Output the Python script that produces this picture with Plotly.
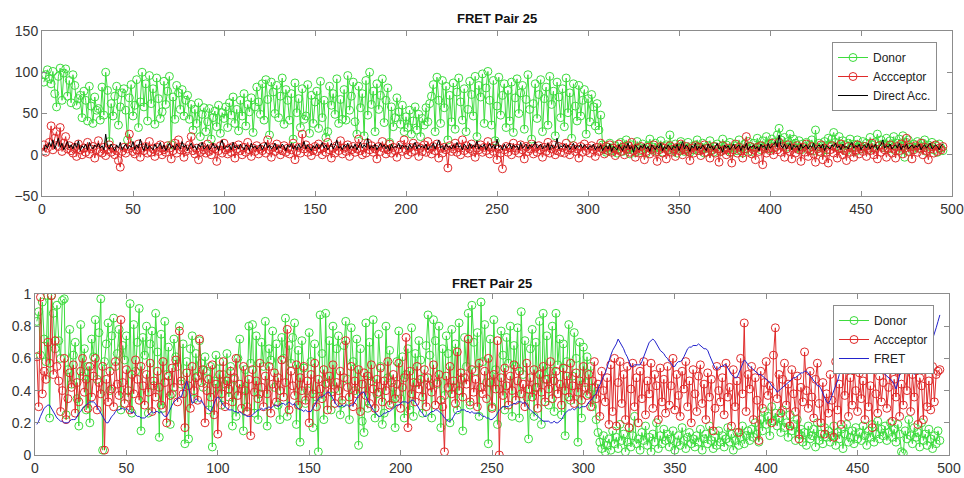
import plotly.graph_objects as go

# ---------------- Top panel: intensities ----------------
top_donor = [
    88, 97, 103, 92, 86, 101, 74, 58, 95, 105, 66, 99, 104, 71, 90,
    63, 97, 84, 60, 68, 72, 45, 77, 66, 41, 83, 59, 38, 70, 54,
    56, 42, 82, 48, 100, 78, 16, 62, 47, 71, 83, 36, 58, 75, 80,
    54, 18, 69, 85, 47, 60, 91, 33, 64, 100, 58, 86, 41, 96, 62,
    80, 37, 93, 68, 44, 52, 89, 61, 77, 95, 12, 70, 43, 84, 75,
    55, 79, 47, 66, 72, 43, 61, 30, 55, 38, 63, 22, 49, 57, 28,
    40, 56, 19, 45, 53, 34, 60, 26, 51, 44, 58, 33, 63, 48, 70,
    38, 55, 29, 66, 47, 74, 35, 61, 52, 69, 27, 58, 82, 64, 49,
    86, 42, 91, 67, 24, 88, 76, 50, 84, 45, 71, 93, 37, 79, 66,
    42, 74, 19, 87, 51, 68, 33, 80, 43, 47, 85, 26, 72, 38, 64,
    77, 32, 89, 45, 66, 21, 28, 83, 60, 74, 49, 92, 38, 67, 43,
    79, 42, 96, 54, 71, 88, 40, 25, 83, 57, 74, 23, 90, 48, 100,
    61, 77, 28, 86, 55, 72, 92, 39, 66, 81, 15, 58, 34, 45, 69,
    52, 37, 60, 28, 46, 33, 54, 25, 41, 58, 30, 49, 22, 44, 36,
    57, 40, 62, 71, 85, 28, 94, 66, 38, 90, 57, 83, 18, 72, 40,
    87, 31, 76, 93, 64, 42, 80, 28, 55, 89, 73, 47, 95, 22, 84,
    70, 98, 38, 81, 101, 66, 36, 90, 17, 59, 94, 48, 72, 86, 33,
    78, 41, 88, 27, 69, 92, 50, 75, 84, 31, 67, 97, 55, 19, 62,
    86, 44, 73, 91, 28, 68, 82, 36, 95, 61, 77, 23, 88, 70, 45,
    80, 34, 93, 51, 75, 20, 86, 59, 41, 84, 47, 66, 79, 25, 68,
    40, 73, 58, 35, 62, 30, 48, 12, 6, 3, 9, 14, 5, 8, 11,
    2, 7, 15, 4, 10, 18, 6, 1, 12, 8, 3, 16, 9, 5, 13,
    7, 2, 11, 19, 6, 9, 14, 4, 8, 17, 3, 10, 12, 6, 24,
    9, 5, 13, 2, 8, 16, 11, 4, 7, 15, 3, 10, 6, 12, 18,
    5, 9, 14, 2, 8, 11, 17, 6, 3, 10, 13, 7, 4, 19, 9,
    12, 6, 15, 3, 8, 11, 5, 18, 9, 2, 13, 7, 16, 10, 4,
    14, 8, 20, 11, 6, 17, 9, 22, 13, 7, 19, 15, 10, 24, 32,
    18, 12, 21, 9, 16, 25, 11, 19, 14, 8, 17, 6, 13, 10, 15,
    7, 12, 18, 5, 30, 9, 14, 3, 11, 16, 6, 20, 13, 19, 27,
    15, 10, 22, 8, 17, 12, 5, 14, 19, 9, 13, 4, 18, 11, 7,
    16, 10, 14, 6, 21, 12, 8, 15, 25, 11, 18, 9, 13, 20, 7,
    17, 12, 22, 5, 14, 19, 8, 23, -3, 15, 18, 10, 6, 13, 9,
    16, 11, 7, 14, 18, 4, 12, 9, 15, 6, 11, 3, 13, 8, 5,
]

top_acceptor = [
    12, 3, 8, 15, 35, 6, 20, 28, 10, 33, 4, 14, 22, 7, 11,
    5, 2, 9, -2, 13, 6, 0, 8, 3, 15, 1, 7, 10, -4, 6,
    17, 4, 2, 9, -1, 6, 12, 3, 8, 0, 5, -7, -15, 4, 9,
    2, 7, 25, 11, 4, 1, 6, 13, -3, 8, 5, 10, 2, 16, 3,
    7, -2, 9, 4, 12, 0, 6, 3, 11, 8, -5, 5, 14, 2, 18,
    6, 9, -3, 4, 7, 12, 22, 5, 1, 8, -6, 3, 10, 6, 2,
    13, 4, 0, 9, 7, -8, 5, 11, 2, 14, 6, 1, 8, 3, 10,
    -4, 7, 12, 5, 0, 9, 3, 15, 6, -2, 8, 4, 11, 1, 7,
    5, 10, 2, 18, 6, -3, 9, 4, 13, 7, 0, 5, 11, 3, 8,
    1, 6, 14, -6, 4, 9, 2, 25, 7, 12, 3, 8, -1, 5, 10,
    4, 13, 7, 0, 9, 3, 15, 6, -4, 8, 2, 11, 5, 17, 1,
    8, 4, 12, -2, 6, 10, 3, 7, 19, 5, 0, 9, 2, 14, 6,
    11, 3, 7, -5, 10, 4, 16, 8, 1, 6, 13, 2, 9, 5, -3,
    7, 12, 4, 18, 6, 0, 9, 3, 14, 5, 10, -2, 8, 4, 12,
    3, 16, 7, 1, 10, 5, 13, -4, 8, 2, 9, 6, -16, 11, 4,
    7, 14, 3, 9, 0, 18, 5, 11, 2, 7, 13, 4, -3, 8, 6,
    12, 3, 9, 5, 16, 1, 8, 4, 11, -6, 7, 2, -17, 6, 10,
    3, 9, 0, 14, 5, 8, 2, 12, 6, -5, 10, 4, 7, 13, 1,
    8, 3, 11, 6, -3, 9, 4, 15, 2, 7, 12, 0, 5, 10, 3,
    9, 2, 14, 6, 0, 8, 11, 4, 7, -4, 10, 3, 13, 5, 8,
    2, 11, 6, -2, 9, 4, 14, 7, 1, 10, 5, 12, 3, 8, -1,
    6, 13, 4, 9, 0, 7, 11, 3, 15, 5, -3, 8, 2, 10, 6,
    -6, 4, 9, 1, 7, 12, 3, -8, 6, 10, 2, 8, -5, 5, 11,
    3, 7, -2, 9, 5, 13, 0, 6, 10, 4, -7, 8, 2, 11, 5,
    9, -1, 6, 12, 3, 8, -4, 5, 10, 2, 7, -9, 4, 11, 6,
    0, 8, 3, -10, 6, 13, 2, 9, 5, -4, 7, 22, 3, 10, 1,
    6, -6, 9, 4, 11, -12, 7, 2, 8, 5, 14, 0, 9, 6, 15,
    3, 10, -3, 7, 12, 4, -5, 8, 2, 11, 6, -8, 9, 3, 13,
    -2, 5, 10, 1, -9, 7, 4, 12, -6, 8, 3, -10, 6, 11, 2,
    9, -4, 7, 13, 0, 5, -7, 10, 3, 8, -3, 6, 12, 1, 7,
    4, 10, -2, 8, 5, 14, 0, 7, -5, 11, 3, 9, 6, -3, 8,
    12, 2, 7, -4, 10, 5, 13, 1, 8, 20, 4, 9, -5, 6, 11,
    3, 8, 14, 0, 9, 5, -6, 7, 10, 2, 12, 4, 8, 6, 10,
]

top_direct = [
    5, 12, 8, 15, 10, 18, 7, 13, 20, 9, 14, 6, 11, 16, 8,
    12, 7, 14, 9, 17, 5, 11, 8, 13, 6, 15, 10, 7, 12, 9,
    14, 8, 11, 6, 25, 10, 7, 13, 9, 5, 12, 8, 15, 6, 10,
    13, 7, 11, 9, 16, 6, 12, 8, 19, 10, 5, 14, 7, 11, 9,
    6, 13, 8, 10, 15, 7, 12, 5, 9, 14, 8, 11, 6, 13, 10,
    7, 16, 9, 12, 5, 10, 14, 8, 11, 6, 13, 9, 15, 7, 10,
    12, 6, 9, 14, 8, 11, 5, 13, 18, 7, 10, 9, 12, 6, 15,
    8, 11, 7, 13, 9, 6, 12, 10, 5, 14, 8, 11, 7, 9, 13,
    6, 10, 15, 8, 12, 7, 9, 14, 6, 11, 8, 13, 10, 5, 12,
    9, 14, 7, 11, 6, 13, 8, 10, 16, 7, 12, 9, 5, 11, 8,
    13, 7, 10, 15, 8, 12, 6, 9, 14, 7, 11, 18, 8, 10, 6,
    12, 9, 14, 7, 11, 8, 13, 6, 10, 15, 8, 12, 9, 20, 7,
    11, 8, 13, 6, 10, 14, 9, 12, 7, 11, 5, 13, 8, 10, 9,
    14, 7, 12, 9, 11, 6, 13, 8, 10, 15, 7, 12, 9, 11, 8,
    13, 6, 10, 9, 14, 7, 12, 18, 8, 11, 6, 13, 9, 10, 7,
    12, 8, 15, 9, 11, 6, 13, 10, 7, 14, 8, 12, 9, 17, 7,
    11, 9, 13, 6, 10, 14, 8, 12, 7, 19, 9, 11, 6, 13, 8,
    10, 14, 7, 12, 9, 11, 6, 15, 8, 10, 13, 7, 12, 9, 11,
    16, 8, 10, 13, 7, 11, 9, 14, 6, 12, 8, 10, 20, 7, 11,
    9, 13, 8, 12, 6, 10, 14, 7, 11, 9, 13, 8, 12, 10, 7,
    11, 9, 13, 6, 10, 8, 12, 5, 9, 11, 7, 13, 4, 10, 8,
    6, 12, 9, 5, 11, 8, 14, 7, 10, 3, 12, 9, 6, 11, 8,
    13, 7, 10, 4, 12, 9, 6, 11, 8, 14, 5, 10, 7, 12, 9,
    6, 11, 8, 13, 5, 10, 16, 7, 12, 9, 4, 11, 8, 14, 6,
    10, 7, 12, 9, 5, 13, 8, 11, 6, 10, 14, 7, 9, 3, 12,
    8, 11, 6, 10, 13, 7, 9, 12, 5, 11, 8, 14, 6, 10, 9,
    12, 7, 10, 5, 13, 9, 11, 6, 14, 8, 10, 12, 16, 9, 24,
    11, 8, 13, 7, 10, 14, 6, 12, 9, 11, 5, 13, 8, 10, 12,
    7, 11, 9, 14, 6, 10, 12, 8, 13, 5, 11, 9, 7, 12, 10,
    14, 8, 11, 6, 13, 9, 10, 7, 12, 15, 8, 11, 9, 13, 6,
    10, 12, 8, 14, 7, 11, 9, 13, 6, 10, 12, 18, 8, 11, 9,
    13, 7, 10, 12, 8, 14, 6, 11, 9, 13, 7, 10, 12, 8, 11,
    9, 13, 6, 10, 12, 8, 11, 14, 7, 9, 12, 10, 6, 11, 13,
]

# ---------------- Bottom panel: normalised ----------------
bot_donor = [
    .83, .89, .62, .95, .72, .58, .99, .23, .99, .88, .66, .93, .71, .60, .96,
    .97, .25, .53, .78, .44, .62, .70, .35, .18, .81, .49, .66, .28, .55, .20,
    .72, .61, .84, .47, .76, .97, .03, .58, .69, .82, .40, .74, .85, .55, .63,
    .78, .28, .68, .59, .74, .36, .94, .26, .81, .52, .70, .91, .15, .73, .62,
    .80, .26, .69, .77, .43, .88, .64, .11, .75, .29, .83, .50, .67, .19, .38,
    .72, .61, .55, .80, .44, .69, .07, .58, .10, .66, .74, .35, .63, .49, .71,
    .57, .42, .61, .52, .28, .55, .05, .46, .62, .38, .58, .31, .50, .44, .63,
    .36, .55, .18, .47, .24, .60, .72, .41, .15, .53, .30, .80, .57, .81, .26,
    .74, .22, .38, .70, .55, .83, .18, .66, .59, .77, .42, .69, .31, .22, .73,
    .60, .85, .24, .68, .57, .73, .82, .19, .65, .08, .71, .54, .32, .40, .76,
    .58, .17, .69, .36, .02, .87, .63, .22, .88, .45, .71, .28, .80, .41, .66,
    .74, .25, .32, .68, .83, .47, .22, .79, .58, .40, .72, .06, .66, .21, .14,
    .82, .29, .70, .46, .84, .23, .38, .75, .55, .19, .26, .80, .48, .65, .32,
    .42, .17, .58, .77, .35, .61, .23, .50, .66, .28, .79, .24, .63, .45, .71,
    .59, .26, .48, .68, .87, .62, .23, .84, .71, .44, .80, .17, .66, .37, .74,
    .63, .20, .78, .42, .69, .28, .82, .47, .15, .73, .55, .88, .31, .93, .70,
    .52, .76, .24, .95, .58, .81, .45, .07, .72, .30, .84, .53, .19, .41, .77,
    .62, .28, .73, .57, .80, .24, .68, .55, .79, .23, .89, .50, .71, .36, .10,
    .66, .78, .24, .70, .42, .83, .19, .88, .47, .74, .31, .52, .80, .27, .88,
    .56, .72, .25, .69, .12, .58, .81, .34, .49, .76, .60, .08, .70, .23, .67,
    .45, .61, .38, .55, .30, .42, .22, .14, .08, .04, .12, .02, .06, .10, .03,
    .15, .07, .11, .04, .19, .09, .13, .02, .08, .17, .05, .12, .24, .07, .10,
    .03, .14, .09, .18, .06, .11, .02, .13, .08, .20, .04, .12, .07, .16, .09,
    .13, .05, .10, .15, .03, .08, .12, .06, .17, .09, .04, .11, .14, .07, .10,
    .05, .12, .08, .16, .03, .10, .13, .07, .18, .09, .04, .11, .06, .15, .08,
    .12, .05, .10, .17, .08, .13, .03, .09, .14, .06, .11, .18, .07, .12, .15,
    .09, .16, .11, .20, .13, .08, .22, .15, .27, .19, .24, .12, .30, .21, .26,
    .18, .23, .14, .28, .17, .20, .11, .25, .15, .19, .09, .22, .13, .16, .08,
    .14, .06, .18, .10, .12, .16, .05, .20, .09, .13, .07, .17, .11, .15, .08,
    .12, .18, .06, .14, .10, .16, .04, .13, .19, .08, .11, .15, .07, .17, .10,
    .14, .09, .18, .12, .06, .15, .11, .19, .08, .13, .21, .10, .16, .12, .18,
    .09, .14, .20, .11, .16, .08, .19, .13, .02, .01, .15, .10, .22, .12, .07,
    .17, .11, .14, .05, .20, .09, .13, .06, .16, .10, .04, .12, .07, .15, .09,
]

bot_acceptor = [
    .61, .30, .98, .38, .52, .47, .70, .57, .99, .50, .71, .55, .46, .27, .40,
    .60, .22, .35, .51, .42, .56, .26, .45, .33, .52, .60, .39, .47, .29, .55,
    .36, .49, .60, .28, .45, .38, .55, .03, .47, .33, .52, .41, .30, .58, .44,
    .37, .84, .45, .32, .53, .40, .28, .50, .38, .59, .47, .34, .55, .43, .31,
    .50, .39, .57, .27, .46, .36, .52, .42, .31, .58, .45, .20, .49, .37, .54,
    .42, .59, .33, .77, .46, .38, .17, .51, .43, .29, .55, .40, .48, .34, .72,
    .45, .53, .20, .40, .47, .36, .56, .25, .44, .13, .50, .38, .58, .30, .46,
    .41, .52, .33, .48, .60, .37, .44, .29, .55, .40, .27, .47, .12, .53, .39,
    .46, .35, .57, .42, .30, .49, .38, .55, .26, .44, .51, .33, .48, .40, .59,
    .36, .45, .78, .28, .52, .43, .37, .56, .31, .48, .40, .55, .34, .46, .20,
    .50, .38, .57, .30, .47, .41, .35, .53, .44, .28, .49, .39, .56, .32, .45,
    .40, .52, .34, .48, .71, .42, .36, .55, .30, .46, .38, .53, .27, .44, .51,
    .37, .49, .32, .56, .41, .29, .47, .39, .54, .33, .46, .40, .58, .31, .45,
    .50, .35, .44, .57, .29, .42, .48, .73, .17, .52, .38, .45, .33, .55, .41,
    .47, .36, .53, .30, .48, .43, .39, .56, .31, .45, .50, .34, .30, .02, .49,
    .42, .55, .38, .46, .32, .64, .40, .51, .36, .48, .44, .72, .33, .53, .39,
    .47, .30, .57, .42, .38, .52, .35, .60, .45, .29, .50, .41, .71, .00, .48,
    .37, .54, .43, .31, .49, .40, .56, .34, .46, .52, .38, .44, .30, .57, .41,
    .48, .36, .53, .42, .29, .50, .39, .55, .33, .47, .41, .58, .35, .46, .52,
    .38, .44, .31, .54, .40, .49, .36, .57, .43, .32, .51, .39, .46, .34, .55,
    .42, .37, .50, .30, .46, .58, .35, .44, .24, .52, .40, .33, .48, .19, .56,
    .27, .60, .18, .45, .58, .32, .50, .22, .55, .17, .41, .57, .30, .48, .20,
    .52, .35, .58, .25, .46, .38, .57, .29, .50, .43, .22, .54, .33, .47, .26,
    .55, .31, .43, .60, .28, .50, .37, .24, .52, .41, .58, .30, .46, .20, .53,
    .38, .27, .49, .56, .32, .44, .22, .51, .36, .47, .15, .29, .55, .40, .33,
    .48, .25, .57, .36, .42, .18, .53, .30, .46, .14, .60, .38, .82, .27, .50,
    .41, .55, .22, .48, .34, .09, .52, .29, .45, .58, .37, .43, .20, .62, .79,
    .35, .50, .26, .47, .57, .31, .44, .18, .53, .38, .27, .49, .10, .42, .33,
    .64, .40, .29, .52, .36, .23, .47, .57, .32, .20, .45, .13, .38, .26, .50,
    .34, .11, .58, .28, .44, .19, .53, .37, .60, .24, .48, .31, .55, .40, .27,
    .51, .35, .46, .22, .57, .30, .43, .17, .53, .38, .26, .49, .33, .45, .60,
    .29, .42, .54, .21, .47, .36, .52, .24, .44, .31, .58, .40, .63, .27, .50,
    .36, .55, .19, .48, .43, .22, .57, .30, .46, .28, .55, .33, .50, .52, .53,
]

bot_fret = [
    .19, .21, .24, .27, .29, .30, .31, .31, .29, .27, .25, .23, .22, .21, .21,
    .20, .20, .20, .21, .22, .22, .22, .24, .26, .27, .29, .30, .31, .32, .33,
    .33, .33, .32, .30, .28, .26, .24, .22, .20, .20, .22, .24, .25, .27, .28,
    .28, .29, .29, .28, .29, .28, .27, .26, .27, .25, .24, .24, .23, .23, .23,
    .24, .25, .26, .27, .26, .27, .27, .26, .27, .25, .24, .24, .26, .29, .31,
    .33, .34, .35, .36, .36, .39, .43, .46, .42, .36, .32, .33, .35, .34, .33,
    .34, .32, .30, .29, .28, .27, .29, .32, .35, .36, .35, .33, .31, .30, .29,
    .28, .28, .28, .27, .27, .26, .27, .26, .25, .25, .24, .24, .24, .25, .26,
    .27, .28, .28, .29, .28, .29, .29, .30, .29, .30, .31, .31, .30, .31, .32,
    .32, .31, .32, .33, .32, .31, .32, .30, .29, .28, .28, .27, .28, .27, .27,
    .27, .29, .31, .33, .35, .36, .36, .37, .38, .39, .39, .37, .35, .33, .31,
    .30, .30, .31, .30, .31, .31, .30, .31, .31, .33, .35, .37, .38, .39, .39,
    .36, .34, .32, .30, .28, .27, .25, .24, .24, .25, .26, .26, .27, .27, .28,
    .29, .30, .31, .31, .32, .33, .33, .33, .32, .33, .34, .34, .33, .31, .29,
    .27, .26, .24, .24, .25, .26, .27, .27, .28, .28, .27, .26, .25, .23, .22,
    .21, .21, .22, .24, .26, .27, .27, .28, .28, .28, .27, .27, .26, .27, .26,
    .26, .26, .26, .25, .24, .24, .23, .23, .22, .22, .23, .24, .26, .28, .29,
    .30, .30, .30, .30, .31, .31, .32, .32, .33, .33, .33, .32, .33, .31, .29,
    .28, .27, .26, .25, .24, .23, .22, .21, .21, .21, .21, .20, .20, .21, .20,
    .20, .21, .22, .24, .26, .27, .28, .28, .29, .28, .29, .30, .29, .30, .30,
    .30, .31, .33, .34, .35, .37, .38, .41, .44, .47, .49, .51, .55, .58, .62,
    .65, .67, .69, .72, .70, .68, .66, .63, .61, .58, .55, .55, .56, .56, .56,
    .56, .58, .61, .64, .67, .70, .71, .72, .71, .69, .67, .65, .64, .63, .61,
    .60, .58, .57, .55, .55, .57, .58, .58, .59, .61, .64, .66, .67, .67, .68,
    .68, .68, .69, .68, .67, .66, .66, .65, .62, .59, .56, .54, .53, .54, .55,
    .55, .56, .56, .54, .52, .50, .49, .48, .48, .51, .54, .57, .59, .58, .56,
    .55, .54, .53, .52, .51, .50, .50, .49, .48, .47, .46, .45, .43, .42, .41,
    .39, .40, .41, .42, .43, .44, .45, .46, .47, .48, .48, .49, .50, .51, .51,
    .52, .52, .51, .49, .48, .46, .45, .43, .43, .41, .38, .35, .33, .32, .34,
    .37, .40, .42, .46, .50, .53, .55, .55, .54, .54, .53, .54, .54, .55, .56,
    .56, .55, .55, .54, .54, .53, .53, .54, .53, .52, .52, .51, .51, .51, .50,
    .49, .48, .47, .46, .44, .41, .45, .50, .55, .59, .61, .62, .60, .56, .52,
    .50, .52, .54, .56, .58, .60, .62, .64, .66, .68, .72, .75, .79, .83, .87,
]

x_ticks = [0, 50, 100, 150, 200, 250, 300, 350, 400, 450, 500]
title_text = "FRET Pair 25"

GREEN = "#3ddc3d"
RED = "#e02a2a"
MSIZE = 8
FONT = "Liberation Sans, Arial, sans-serif"


def frames(vals):
    return list(range(1, len(vals) + 1))


fig = go.Figure()

# top panel
fig.add_trace(go.Scatter(x=frames(top_donor), y=top_donor, name="Donor", mode="lines+markers",
                         line=dict(color=GREEN, width=1),
                         marker=dict(symbol="circle-open", size=MSIZE, color=GREEN, line=dict(width=1)),
                         xaxis="x", yaxis="y", legend="legend"))
fig.add_trace(go.Scatter(x=frames(top_acceptor), y=top_acceptor, name="Accceptor", mode="lines+markers",
                         line=dict(color=RED, width=1),
                         marker=dict(symbol="circle-open", size=MSIZE, color=RED, line=dict(width=1)),
                         xaxis="x", yaxis="y", legend="legend"))
fig.add_trace(go.Scatter(x=frames(top_direct), y=top_direct, name="Direct Acc.", mode="lines",
                         line=dict(color="black", width=1),
                         xaxis="x", yaxis="y", legend="legend"))

# bottom panel
fig.add_trace(go.Scatter(x=frames(bot_donor), y=bot_donor, name="Donor", mode="lines+markers",
                         line=dict(color=GREEN, width=1),
                         marker=dict(symbol="circle-open", size=MSIZE, color=GREEN, line=dict(width=1)),
                         xaxis="x2", yaxis="y2", legend="legend2"))
fig.add_trace(go.Scatter(x=frames(bot_acceptor), y=bot_acceptor, name="Accceptor", mode="lines+markers",
                         line=dict(color=RED, width=1),
                         marker=dict(symbol="circle-open", size=MSIZE, color=RED, line=dict(width=1)),
                         xaxis="x2", yaxis="y2", legend="legend2"))
fig.add_trace(go.Scatter(x=frames(bot_fret), y=bot_fret, name="FRET", mode="lines",
                         line=dict(color="#2323cc", width=1),
                         xaxis="x2", yaxis="y2", legend="legend2"))

W, H = 964, 478
axis_common = dict(showline=True, linecolor="#8c8c8c", linewidth=1, mirror="ticks",
                   ticks="inside", ticklen=5, tickcolor="#8c8c8c", showgrid=False,
                   zeroline=False, automargin=False,
                   tickfont=dict(family=FONT, size=14, color="#333333"))

legend_common = dict(xanchor="left", yanchor="top", bgcolor="white",
                     bordercolor="#8c8c8c", borderwidth=1,
                     font=dict(family=FONT, size=12, color="#222222"),
                     tracegroupgap=0, itemwidth=30)

fig.update_layout(
    template="none",
    width=W, height=H,
    margin=dict(l=0, r=0, t=0, b=0, autoexpand=False),
    paper_bgcolor="white", plot_bgcolor="white",
    showlegend=True,
    xaxis=dict(domain=[42 / W, 952 / W], anchor="y", range=[0, 500], tickvals=x_ticks, **axis_common),
    yaxis=dict(domain=[1 - 196 / H, 1 - 31 / H], anchor="x", range=[-50, 150], dtick=50, **axis_common),
    xaxis2=dict(domain=[35 / W, 949 / W], anchor="y2", range=[0, 500], tickvals=x_ticks, **axis_common),
    yaxis2=dict(domain=[1 - 455 / H, 1 - 294 / H], anchor="x2", range=[0, 1], dtick=0.2, **axis_common),
    legend=dict(x=832 / W, y=1 - 42 / H, **legend_common),
    legend2=dict(x=833 / W, y=1 - 305 / H, **legend_common),
    annotations=[
        dict(text="<b>" + title_text + "</b>", x=497 / W, y=1 - 18 / H, xref="paper", yref="paper",
             showarrow=False, xanchor="center", yanchor="middle",
             font=dict(family=FONT, size=13, color="#111111")),
        dict(text="<b>" + title_text + "</b>", x=492 / W, y=1 - 283 / H, xref="paper", yref="paper",
             showarrow=False, xanchor="center", yanchor="middle",
             font=dict(family=FONT, size=13, color="#111111")),
    ],
)

fig.write_html("out.html",
               config={"displayModeBar": False},
               post_script="document.body.style.margin='0';document.body.style.padding='0';"
                           "document.body.style.overflow='hidden';")
